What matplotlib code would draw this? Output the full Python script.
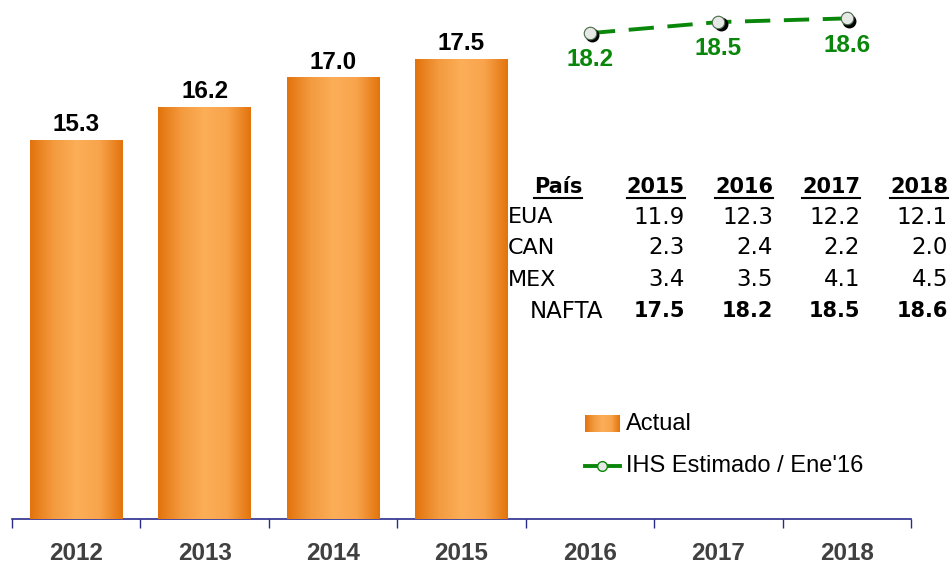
import matplotlib
matplotlib.use("Agg")
import matplotlib.pyplot as plt
import numpy as np
from matplotlib.colors import LinearSegmentedColormap
from matplotlib.lines import Line2D
from matplotlib.transforms import offset_copy

# ---- data ----
years = ["2012", "2013", "2014", "2015", "2016", "2017", "2018"]
actual = [15.3, 16.2, 17.0, 17.5]
estimado = [18.2, 18.5, 18.6]
table_header = ["País", "2015", "2016", "2017", "2018"]
table_rows = ["EUA", "CAN", "MEX"]
eua = [11.9, 12.3, 12.2, 12.1]
can = [2.3, 2.4, 2.2, 2.0]
mex = [3.4, 3.5, 4.1, 4.5]
nafta = [17.5, 18.2, 18.5, 18.6]
legend_labels = ["Actual", "IHS Estimado / Ene'16"]

W, H = 953, 565
fig = plt.figure(figsize=(W / 100, H / 100), dpi=100)
fig.patch.set_facecolor("white")

def fx(x):
    return x / W

def fy(y):
    return 1 - y / H

YMIN, YMAX = 5, 19.1
ax = fig.add_axes([fx(12), fy(519), (911 - 12) / W, 519 / H])
ax.set_xlim(-0.5, 6.5)
ax.set_ylim(YMIN, YMAX)
ax.patch.set_alpha(0)

cmap = LinearSegmentedColormap.from_list(
    "bar", ["#E3730C", "#F39A3E", "#FCAE58", "#F8A44C", "#E3730C"])
grad = np.linspace(0, 1, 256).reshape(1, -1)

x_act = np.arange(len(actual))
heights = np.array(actual) - YMIN
bars = ax.bar(x_act, heights, width=0.72, bottom=YMIN, color="#F39A3E", zorder=2)
for b in bars:
    x0, w = b.get_x(), b.get_width()
    y0, y1 = b.get_y(), b.get_y() + b.get_height()
    im = ax.imshow(grad, extent=[x0, x0 + w, y0, y1], aspect="auto",
                   cmap=cmap, zorder=3)
    im.set_clip_path(b)
    b.set_facecolor("none")
for xi, v in zip(x_act, actual):
    ax.annotate(f"{v:.1f}", (xi, v), xytext=(0, 2.5), textcoords="offset points",
                ha="center", va="bottom", fontsize=17.5, fontweight="bold",
                family="Liberation Sans", color="black")

# estimate line
x_est = np.arange(len(actual), len(actual) + len(estimado))
green = "#0A870A"
ax.plot(x_est, estimado, color=green, lw=2.8, dashes=(6.5, 3.5), zorder=4)
shadow_tr = offset_copy(ax.transData, fig=fig, x=1.6, y=-1.6, units="points")
ax.plot(x_est, estimado, ls="none", marker="o", ms=9, mfc="black",
        mec="black", transform=shadow_tr, zorder=5)
ax.plot(x_est, estimado, ls="none", marker="o", ms=9, mfc="#E6E8E6",
        mec="#4A6A4A", mew=0.8, zorder=6)
for xi, v in zip(x_est, estimado):
    ax.annotate(f"{v:.1f}", (xi, v), xytext=(0, -11), textcoords="offset points",
                ha="center", va="top", fontsize=17.5, fontweight="bold",
                family="Liberation Sans", color=green)

# axes styling
for s in ["left", "right", "top"]:
    ax.spines[s].set_visible(False)
navy = "#2B2B8C"
ax.spines["bottom"].set_color(navy)
ax.spines["bottom"].set_linewidth(1.2)
ax.set_yticks([])
ax.set_xticks(range(len(years)))
ax.set_xticklabels(years, fontsize=17.5, fontweight="bold",
                   family="Liberation Sans", color="#404040")
ax.set_xticks(np.arange(-0.5, len(years), 1.0), minor=True)
ax.tick_params(axis="x", which="major", length=0, pad=16.5)
ax.tick_params(axis="x", which="minor", length=6.5, width=1, color=navy,
               direction="out")

# ---- table ----
tfont = "DejaVu Sans"
bsize = 15
rsize = 16.5
col_right = [685, 773, 860, 948]
row_y = [217, 248, 280, 311]
header_y = 187
hdr_texts = []
hdr_texts.append(fig.text(fx(558), fy(header_y), table_header[0], ha="center",
                          va="center", fontsize=bsize, fontweight="bold",
                          family=tfont))
for xr, t in zip(col_right, table_header[1:]):
    hdr_texts.append(fig.text(fx(xr), fy(header_y), t, ha="right", va="center",
                              fontsize=bsize, fontweight="bold", family=tfont))
for name, vals, yy in zip(table_rows, [eua, can, mex], row_y[:3]):
    fig.text(fx(508), fy(yy), name, ha="left", va="center", fontsize=16,
             family=tfont)
    for xr, v in zip(col_right, vals):
        fig.text(fx(xr), fy(yy), f"{v:.1f}", ha="right", va="center",
                 fontsize=rsize, family=tfont)
fig.text(fx(530), fy(row_y[3]), "NAFTA", ha="left", va="center", fontsize=16.5,
         family=tfont)
for xr, v in zip(col_right, nafta):
    fig.text(fx(xr), fy(row_y[3]), f"{v:.1f}", ha="right", va="center",
             fontsize=bsize, fontweight="bold", family=tfont)

fig.canvas.draw()
r = fig.canvas.get_renderer()
for t in hdr_texts:
    bb = t.get_window_extent(r)
    yl = bb.y0 - 1.0
    fig.add_artist(Line2D([bb.x0 / W, bb.x1 / W], [yl / H, yl / H],
                          color="black", lw=1.5, transform=fig.transFigure))

# ---- legend ----
lax = fig.add_axes([fx(585), fy(432), 35 / W, 17 / H])
lax.imshow(grad, aspect="auto", cmap=cmap, extent=[0, 1, 0, 1])
lax.set_axis_off()
fig.text(fx(626), fy(424), legend_labels[0], ha="left", va="center",
         fontsize=17, family="Liberation Sans", color="black")
fig.add_artist(Line2D([fx(585), fx(620)], [fy(466), fy(466)], color=green,
                      lw=2.8, transform=fig.transFigure))
fig.add_artist(Line2D([fx(602)], [fy(466)], ls="none", marker="o", ms=7,
                      mfc="#E6E8E6", mec=green, mew=1, transform=fig.transFigure))
fig.text(fx(626), fy(466), legend_labels[1], ha="left", va="center",
         fontsize=17, family="Liberation Sans", color="black")

fig.savefig("out.png", dpi=100, facecolor="white")
